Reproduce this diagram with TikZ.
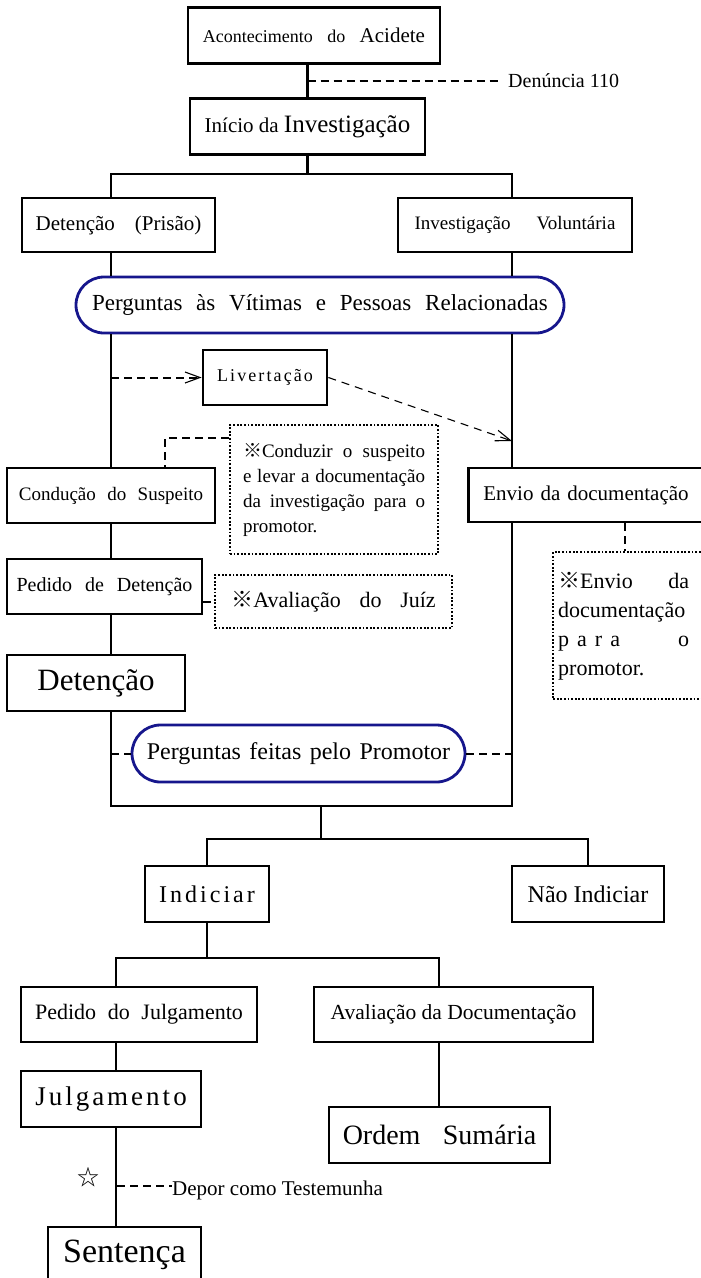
\documentclass[tikz,border=0pt]{standalone}
\usepackage{fontspec}
\setmainfont{Liberation Serif}
\newfontfamily\cjkfont{Noto Sans CJK SC}
\usetikzlibrary{arrows.meta,shapes.misc}

\definecolor{qblue}{RGB}{22,22,140}
\newcommand\setfs[1]{\fontsize{#1}{#1}\selectfont}
\makeatletter
\newcommand\spreadword[2]{\def\sw@gap{#1}\let\sw@sep\relax
  \@tfor\sw@c:=#2\do{\sw@sep\sw@c\def\sw@sep{\hspace{\sw@gap}}}}
\makeatother

\begin{document}
\begin{tikzpicture}[x=1pt, y=-1pt,
    box/.style={draw, line width=2.8pt, inner sep=0pt, minimum height=56pt},
    quest/.style={draw=qblue, line width=2.8pt, rounded rectangle, inner sep=0pt, minimum height=56pt},
    notebox/.style={draw, line width=2.4pt, dash pattern=on 1.8pt off 1.8pt, inner sep=0pt},
    link/.style={line width=2.8pt},
    guide/.style={line width=2pt, dash pattern=on 8pt off 5pt},
    barb/.style={-{Straight Barb[length=15pt,width=11pt,line width=1.1pt]}},
    release/.style={line width=1.1pt, dash pattern=on 8pt off 6pt, barb}
]
\useasboundingbox (0,0) rectangle (701,1278);
\clip (0,0) rectangle (701,1278);

% upper part
\node[box, minimum width=252pt, font={\setfs{18}\spaceskip=0.8em\relax}] (acid) at (314,35.5)
  {Acontecimento do {\setfs{21}Acidete}};
\node[anchor=west, inner sep=0pt, font=\setfs{20}] (denun) at (508,81) {Denúncia 110};
\node[box, minimum width=235pt, font=\setfs{21}] (inicio) at (307.5,126.5)
  {Início da {\setfs{25}Investigação}};
\node[box, minimum width=193pt, minimum height=54pt, font=\setfs{21}] (prisao) at (118.5,225)
  {Detenção\hspace{0.95em}(Prisão)};
\node[box, minimum width=234pt, minimum height=54pt, font=\setfs{19}] (volunt) at (515,225)
  {Investigação\hspace{26pt}Voluntária};
\node[quest, minimum width=488pt, font={\setfs{23}\spaceskip=0.6em\relax}] (perg1) at (320,305)
  {Perguntas às Vítimas e Pessoas Relacionadas};
\node[box, minimum width=124pt, minimum height=55pt, font=\setfs{18}] (livert) at (265,377.5)
  {\spreadword{2.1pt}{Livertação}};
\node[notebox, minimum width=208pt, minimum height=129pt, text width=182pt, align=justify,
  font={\fontsize{19}{25}\selectfont}] (nota1) at (334,489.5)
  {{\cjkfont ※}Conduzir o suspeito\linebreak e levar a documentação\linebreak
   da investigação para o\linebreak promotor.};

% left column
\node[box, minimum width=208pt, minimum height=55pt, font={\setfs{19}\spaceskip=0.6em\relax}] (cond) at (111,495.5)
  {Condução do Suspeito};
\node[box, minimum width=195pt, minimum height=55pt, font={\setfs{20}\spaceskip=0.65em\relax}] (pedido) at (104.5,586.5)
  {Pedido de Detenção};
\node[notebox, minimum width=237pt, minimum height=53pt, font={\setfs{22}\spaceskip=0.85em\relax}] (nota2) at (333.5,601.5)
  {{\cjkfont ※}Avaliação do Juíz};
\node[box, minimum width=178pt, font=\setfs{31}] (deten) at (96,683) {Detenção};

% right column
\node[box, anchor=west, minimum height=54pt, text width=250pt, align=left, inner xsep=15pt,
  font=\setfs{21}] (envio) at (467,495) {Envio da documentação};
\node[notebox, anchor=north west, minimum height=147pt, text width=190pt, align=left, inner xsep=5pt,
  font={\fontsize{22}{29}\selectfont}] (nota3) at (552,551)
  {\makebox[131pt][l]{{\cjkfont ※}Envio\hfill da}\\documentação\\
   \makebox[131pt][l]{p\hspace{8pt}a\hspace{8pt}r\hspace{8pt}a\hfill o}\\promotor.};

\node[quest, minimum width=333pt, minimum height=57pt, font={\setfs{24}\spaceskip=0.35em\relax}] (perg2) at (298.5,753.5)
  {Perguntas feitas pelo Promotor};

% lower part
\node[box, minimum width=124pt, font=\setfs{24}] (indic) at (207,894) {\spreadword{3pt}{Indiciar}};
\node[box, minimum width=152pt, font=\setfs{24}] (nao) at (588,894) {Não Indiciar};
\node[box, minimum width=236pt, minimum height=55pt, font={\setfs{22}\spaceskip=0.53em\relax}] (pjulg) at (139,1014.5)
  {Pedido do Julgamento};
\node[box, minimum width=279pt, minimum height=55pt, font=\setfs{21.5}] (aval) at (453.5,1014.5)
  {Avaliação da Documentação};
\node[box, minimum width=180pt, font=\setfs{27}] (julg) at (111,1099) {\spreadword{3pt}{Julgamento}};
\node[box, minimum width=221pt, font={\setfs{28}\spaceskip=0.8em\relax}] (ordem) at (439.5,1135)
  {Ordem Sumária};
\node[inner sep=0pt, font=\cjkfont\setfs{22}] (star) at (88,1177) {☆};
\node[anchor=west, inner sep=0pt, font=\setfs{21}] (depor) at (172,1190) {Depor como Testemunha};
\node[box, minimum width=153pt, font=\setfs{34}] (sent) at (124.5,1255) {Sentença};

% fixed columns and junctions
\coordinate (L) at (111,0);
\coordinate (R) at (512,0);
\coordinate (PJ) at (116,0);
\coordinate (AD) at (439,0);
\coordinate (EC) at (625,0);
\coordinate (ja) at (307,174);
\coordinate (jb) at (321,806);
\coordinate (jc) at (321,839);
\coordinate (jd) at (207,958);
\coordinate (NC) at (165,438);
\coordinate (rel) at (512,441);
\coordinate (dp) at (117,1186);

\draw[link] (inicio.north |- acid.south) -- (inicio.north);
\draw[guide] (denun.west -| inicio.north) -- ([xshift=-10pt]denun.west);
\draw[link] (inicio.south) -- (inicio.south |- ja);
\draw[link] (prisao.north -| L) -- (ja -| L) -- (ja -| R) -- (volunt.north -| R);
\draw[link] (prisao.south -| L) -- (perg1.north -| L);
\draw[link] (volunt.south -| R) -- (perg1.north -| R);
\draw[link] (perg1.south -| L) -- (cond.north -| L);
\draw[link] (perg1.south -| R) -- (envio.north -| R);
\draw[guide, barb] (livert.west -| L) -- (livert.west);
\draw[release] (livert.east) -- (rel);
\draw[guide] (NC -| nota1.west) -- (NC) -- (NC |- cond.north);
\draw[link] (cond.south -| L) -- (pedido.north -| L);
\draw[guide] (nota2.west -| pedido.east) -- (nota2.west);
\draw[link] (pedido.south -| L) -- (deten.north -| L);
\draw[guide] (envio.south -| EC) -- (nota3.north -| EC);
\draw[link] (deten.south -| L) -- (jb -| L) -- (jb -| R) -- (envio.south -| R);
\draw[guide] (perg2.west -| L) -- (perg2.west);
\draw[guide] (perg2.east) -- (perg2.east -| R);
\draw[link] (jb) -- (jc);
\draw[link] (indic.north) |- (jc) -| (nao.north);
\draw[link] (indic.south) -- (jd);
\draw[link] (pjulg.north -| PJ) -- (jd -| PJ) -- (jd -| AD) -- (aval.north -| AD);
\draw[link] (pjulg.south -| PJ) -- (julg.north -| PJ);
\draw[link] (aval.south -| AD) -- (ordem.north -| AD);
\draw[link] (julg.south -| PJ) -- (sent.north -| PJ);
\draw[guide] (dp) -- (dp -| depor.west);
\end{tikzpicture}
\end{document}
